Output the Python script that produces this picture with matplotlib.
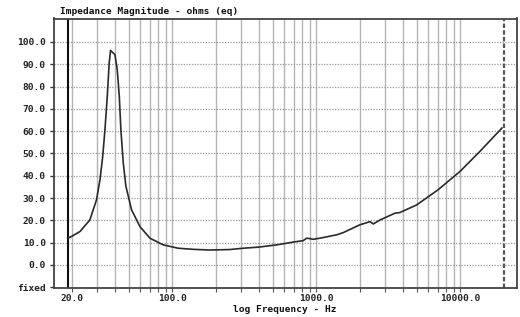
import matplotlib
matplotlib.use("Agg")
import matplotlib.pyplot as plt
from matplotlib.ticker import FixedLocator, NullFormatter

freq_hz = [18.8, 20, 22.9, 26.8, 29.8, 31.5, 32.9, 34.1, 35.4, 36.5, 37.3, 40.0,
           41.5, 42.9, 44.0, 45.7, 47.7, 52.2, 59.7, 70, 86.6, 110, 140, 183, 250,
           311, 400, 530, 700, 812, 858, 905, 954, 1060, 1385, 1540, 2010, 2360,
           2490, 2780, 3520, 3810, 4980, 7020, 9960, 13700, 19500]
impedance_ohms = [12.0, 12.8, 15.0, 20.2, 29.2, 38.2, 48.6, 60.6, 75.6, 90.6, 96.2, 94.3,
                  87.6, 75.6, 60.6, 45.7, 35.2, 24.7, 17.2, 12.0, 9.0, 7.5, 7.0, 6.7, 6.9,
                  7.5, 8.0, 9.0, 10.3, 10.9, 12.0, 11.8, 11.5, 12.0, 13.5, 14.5, 18.0, 19.4,
                  18.4, 20.2, 23.2, 23.5, 26.9, 33.7, 41.9, 50.9, 61.4]

y_ticks = [0, 10, 20, 30, 40, 50, 60, 70, 80, 90, 100]
y_tick_labels = ["0.0", "10.0", "20.0", "30.0", "40.0", "50.0", "60.0", "70.0",
                 "80.0", "90.0", "100.0"]
x_major = [20, 100, 1000, 10000]
x_major_labels = ["20.0", "100.0", "1000.0", "10000.0"]
x_grid = [20, 30, 40, 50, 60, 70, 80, 90, 100, 200, 300, 400, 500, 600, 700, 800, 900,
          1000, 2000, 3000, 4000, 5000, 6000, 7000, 8000, 9000, 10000]
sweep_start = 18.8
sweep_end = 20000

title = "Impedance Magnitude - ohms (eq)"
xlabel = "log Frequency - Hz"

mono = {"family": "DejaVu Sans Mono", "weight": "bold", "size": 6.8}

fig = plt.figure(figsize=(5.2, 3.17), dpi=100)
ax = fig.add_axes([54 / 520, 1 - 287.7 / 317, (517 - 54) / 520, (287.7 - 18.5) / 317])
ax.set_xscale("log")
ax.set_xlim(15.1, 24800)
ax.set_ylim(-10.2, 110.5)

for f in x_grid:
    ax.axvline(f, color="#b4b4b4", lw=1.0, zorder=1)
for v in y_ticks:
    ax.axhline(v, color="#9a9a9a", lw=0.9, ls=(0, (1, 1.2)), zorder=1)

ax.axvline(sweep_start, color="#111111", lw=1.5, zorder=2)
ax.axvline(sweep_end, color="#555555", lw=1.6, ls=(0, (2, 1)), zorder=2)

ax.plot(freq_hz, impedance_ohms, color="#2a2a2a", lw=1.2, zorder=3)

ax.yaxis.set_major_locator(FixedLocator(y_ticks + [-10]))
ax.set_yticklabels(y_tick_labels + ["fixed"], fontdict=mono, color="#222222")
ax.xaxis.set_major_locator(FixedLocator(x_major))
ax.set_xticklabels(x_major_labels, fontdict=mono, color="#222222")
ax.xaxis.set_minor_locator(FixedLocator(x_grid))
ax.xaxis.set_minor_formatter(NullFormatter())
ax.tick_params(axis="y", length=3, width=1, color="#333333", pad=3)
ax.tick_params(axis="x", which="both", length=3, width=0.8, color="#555555", pad=1.2)
for s in ax.spines.values():
    s.set_color("#444444")
    s.set_linewidth(1.3)

fig.text(60 / 520, 1 - 12 / 317, title, ha="left", va="center", **mono, color="#111111")
fig.text(285 / 520, 1 - 310 / 317, xlabel, ha="center", va="center", **mono, color="#111111")

fig.savefig("out.png", dpi=100, facecolor="white")
